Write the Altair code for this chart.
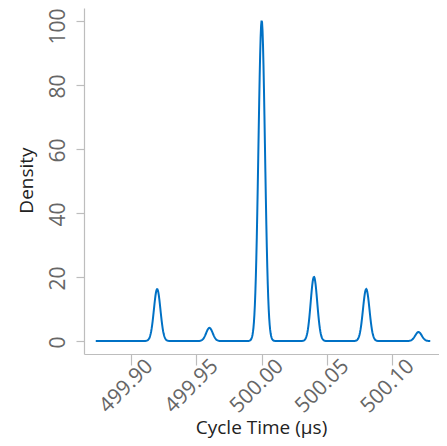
import altair as alt
import pandas as pd

# Peak locations (µs) and relative sample counts
peak_centers = [499.92, 499.96, 500.00, 500.04, 500.08, 500.12]
peak_counts = [162, 41, 1000, 200, 162, 28]

x_ticks = [499.90, 499.95, 500.00, 500.05, 500.10]
y_ticks = [0, 20, 40, 60, 80, 100]

samples = []
for c, n in zip(peak_centers, peak_counts):
    samples.extend([c] * n)
df = pd.DataFrame({"t": samples})

LABEL_FONT = "Open Sans"

chart = (
    alt.Chart(df)
    .transform_density(
        "t",
        as_=["t", "density"],
        bandwidth=0.0025,
        extent=[499.873, 500.129],
        steps=700,
    )
    .mark_line(color="#0071c5", strokeWidth=2)
    .encode(
        x=alt.X(
            "t:Q",
            scale=alt.Scale(domain=[499.864, 500.1357], nice=False, zero=False),
            axis=alt.Axis(
                values=x_ticks,
                format=".2f",
                title="Cycle Time (µs)",
                labelAngle=315,
                labelAlign="center",
                labelBaseline="middle",
                labelOffset=-5,
                labelPadding=21,
                tickSize=11,
                titleX=177,
                titleY=79,
                titleBaseline="alphabetic",
                titleAlign="center",
            ),
        ),
        y=alt.Y(
            "density:Q",
            scale=alt.Scale(domain=[-4.06, 104.06], nice=False, zero=False),
            axis=alt.Axis(
                values=y_ticks,
                title="Density",
                labelAngle=270,
                labelAlign="center",
                labelBaseline="middle",
                labelPadding=18,
                labelOffset={"condition": {"test": "datum.value == 100", "value": 5}, "value": 1},
                tickSize=8,
                titleX=-52,
                titleY=172,
                titleAngle=270,
                titleBaseline="alphabetic",
                titleAlign="center",
            ),
        ),
    )
    .properties(
        width=355,
        height=346,
        autosize=alt.AutoSizeParams(type="none"),
        padding={"left": 76, "top": 0, "right": 0, "bottom": 84},
    )
    .configure_view(stroke=None)
    .configure_axis(
        grid=False,
        domainColor="#bdbdbd",
        tickColor="#bdbdbd",
        domainWidth=1.2,
        tickWidth=1.2,
        labelFont=LABEL_FONT,
        labelFontSize=21,
        labelColor="#666666",
        titleFont=LABEL_FONT,
        titleFontSize=19,
        titleFontWeight="normal",
        titleColor="#222222",
        labelOverlap=False,
        labelFlush=False,
    )
)

chart.save("out.html", embed_options={"renderer": "svg", "actions": False})
